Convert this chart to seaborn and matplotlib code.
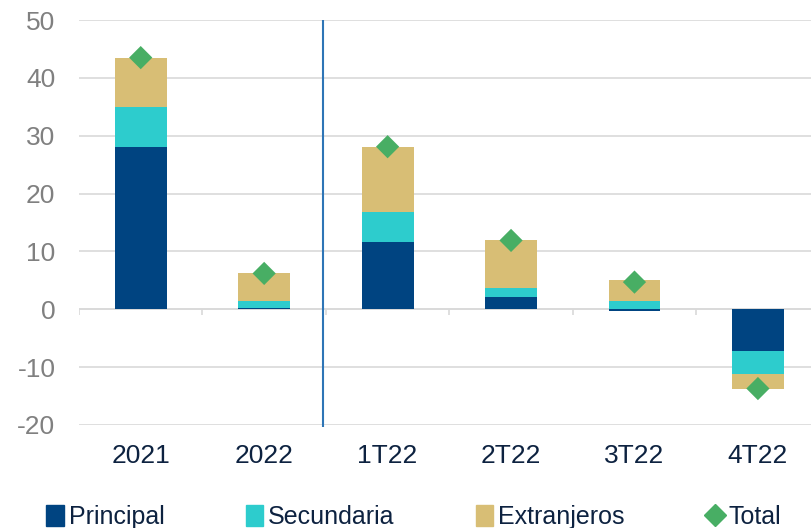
import numpy as np
import matplotlib
matplotlib.use("Agg")
import matplotlib.pyplot as plt
import matplotlib.patches as mpatches
from matplotlib.lines import Line2D
import seaborn as sns

# Data
categories = ["2021", "2022", "1T22", "2T22", "3T22", "4T22"]
principal = [28.0, 0.3, 11.6, 2.1, -0.3, -7.2]
secundaria = [7.0, 1.1, 5.2, 1.6, 1.4, -3.9]
extranjeros = [8.5, 4.8, 11.3, 8.2, 3.6, -2.6]
total = [43.5, 6.2, 28.1, 11.9, 4.7, -13.7]

series_names = ["Principal", "Secundaria", "Extranjeros"]
colors = ["#004481", "#2dcccd", "#d8be75"]
total_color = "#48ae64"

sns.set_theme(style="white")
plt.rcParams["font.family"] = ["Liberation Sans", "DejaVu Sans"]
plt.rcParams["axes.unicode_minus"] = False

fig, ax = plt.subplots(figsize=(8.11, 5.28), dpi=100)
fig.subplots_adjust(left=79 / 811, right=1.0, bottom=103 / 528, top=508 / 528)

# stacked bars, positives and negatives stacked separately
pos_base = np.zeros(len(categories))
neg_base = np.zeros(len(categories))
for name, vals, col in zip(series_names, [principal, secundaria, extranjeros], colors):
    vals = np.array(vals)
    bottoms = np.where(vals >= 0, pos_base, neg_base)
    sns.barplot(x=categories, y=vals, bottom=bottoms, color=col, width=0.42,
                errorbar=None, saturation=1, linewidth=0, ax=ax, zorder=3)
    pos_base = pos_base + np.where(vals >= 0, vals, 0)
    neg_base = neg_base + np.where(vals < 0, vals, 0)

sns.scatterplot(x=np.arange(len(categories)), y=total, marker="D", s=140,
                color=total_color, edgecolor="none", ax=ax, zorder=5)

ax.set_xlim(-0.5, 5.43)
ax.set_ylim(-20, 50)
ax.set_yticks(range(-20, 51, 10))
ax.yaxis.grid(True, color="#d9d9d9", linewidth=1.2, zorder=0)
ax.set_axisbelow(True)
for s in ax.spines.values():
    s.set_visible(False)

# zero axis line with small tick marks between categories
ax.axhline(0, color="#d9d9d9", linewidth=1.2, zorder=2)
ax.vlines(np.arange(-0.5, 5.5, 1.0), -1.0, 0, color="#d9d9d9", linewidth=1.2, zorder=2)

# separator between annual and quarterly data
ax.vlines(1.475, -20.4, 50, color="#2e75b6", linewidth=1.5, zorder=4, clip_on=False)

ax.tick_params(axis="x", length=0, pad=14, labelsize=19, labelcolor="#0d2240")
ax.tick_params(axis="y", length=0, pad=17, labelsize=19, labelcolor="#808080")
ax.set_xlabel("")
ax.set_ylabel("")

handles = [mpatches.Patch(color=c, label=n) for n, c in zip(series_names, colors)]
handles.append(Line2D([], [], marker="D", linestyle="none", color=total_color,
                      markersize=11, label="Total"))
leg = fig.legend(handles=handles, loc="lower center", ncol=4, frameon=False,
                 bbox_to_anchor=(0.51, -0.045), fontsize=18, handlelength=0.7,
                 handleheight=0.9, handletextpad=0.2, columnspacing=3.25)
for t in leg.get_texts():
    t.set_color("#0d2240")

fig.savefig("out.png", dpi=100)
